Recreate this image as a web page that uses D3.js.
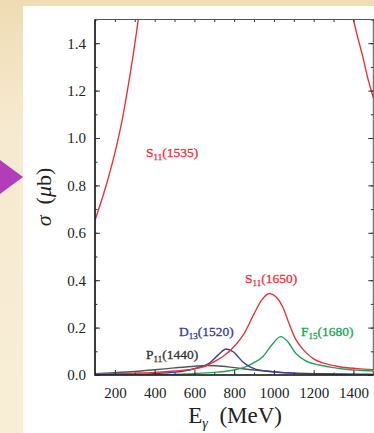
<!DOCTYPE html>
<html>
<head>
<meta charset="utf-8">
<script src="https://cdn.jsdelivr.net/npm/d3@7"></script>
<style>
  body { margin: 0; background: #f4e8c9; }
  svg { display: block; font-family: "Liberation Serif", "DejaVu Serif", serif; }
</style>
</head>
<body>
<div id="chart"></div>
<script>
// curves (E in MeV, sigma in microbarn)
var s1535Left = [[100, 0.653], [140, 0.755], [175, 0.856], [210, 0.972], [240, 1.09], [267, 1.22], [292, 1.35], [317, 1.495], [325, 1.54]];
var s1535Right = [[1390, 1.54], [1400, 1.50], [1420, 1.43], [1445, 1.35], [1470, 1.26], [1500, 1.17]];
var s1650 = [[100, 0.004], [200, 0.006], [300, 0.008], [400, 0.011], [500, 0.017], [600, 0.026], [650, 0.036], [700, 0.056], [750, 0.082], [800, 0.12], [850, 0.175], [900, 0.258], [940, 0.318], [977, 0.344], [1010, 0.33], [1044, 0.288], [1077, 0.215], [1110, 0.15], [1150, 0.105], [1200, 0.068], [1250, 0.05], [1330, 0.035], [1420, 0.027], [1500, 0.022]];
var d1520 = [[100, 0.001], [300, 0.003], [400, 0.006], [500, 0.012], [580, 0.022], [626, 0.033], [676, 0.05], [720, 0.085], [760, 0.11], [795, 0.098], [843, 0.056], [880, 0.034], [910, 0.024], [994, 0.014], [1100, 0.008], [1200, 0.005], [1350, 0.003], [1500, 0.002]];
var f1680 = [[100, 0.0], [400, 0.002], [600, 0.006], [700, 0.011], [777, 0.018], [860, 0.035], [900, 0.052], [944, 0.077], [990, 0.128], [1035, 0.162], [1070, 0.14], [1111, 0.091], [1160, 0.06], [1228, 0.042], [1300, 0.031], [1362, 0.024], [1430, 0.02], [1500, 0.017]];
var p1440 = [[100, 0.006], [200, 0.01], [300, 0.015], [400, 0.022], [500, 0.03], [600, 0.037], [670, 0.04], [740, 0.037], [800, 0.031], [900, 0.021], [1000, 0.013], [1100, 0.008], [1200, 0.006], [1300, 0.004], [1400, 0.003], [1500, 0.002]];

var xTicks = [200, 400, 600, 800, 1000, 1200, 1400];
var yTicks = [0.0, 0.2, 0.4, 0.6, 0.8, 1.0, 1.2, 1.4];

var curves = [
  {data: s1535Left, color: "#e8343c"},
  {data: s1535Right, color: "#e8343c"},
  {data: p1440, color: "#555555"},
  {data: f1680, color: "#20a454"},
  {data: d1520, color: "#3b3b98"},
  {data: s1650, color: "#e8343c"}
];
var labels = [
  {main: "S", sub: "11", rest: "(1535)", x: 146, y: 157, color: "#e8343c"},
  {main: "S", sub: "11", rest: "(1650)", x: 245, y: 283, color: "#e8343c"},
  {main: "D", sub: "13", rest: "(1520)", x: 179, y: 336, color: "#3b3b98"},
  {main: "F", sub: "15", rest: "(1680)", x: 301, y: 336, color: "#20a454"},
  {main: "P", sub: "11", rest: "(1440)", x: 146, y: 359, color: "#333333"}
];

var W = 374, H = 433;
var margin = {top: 19.5, right: 0.7, bottom: 58, left: 95},
    width = W - margin.left - margin.right,
    height = H - margin.top - margin.bottom;

var svg = d3.select("#chart").append("svg")
    .attr("width", W)
    .attr("height", H);

// beige backdrop, white panel, purple pointer
var defs = svg.append("defs");
var grad = defs.append("linearGradient").attr("id", "bg").attr("x1", 0).attr("y1", 0).attr("x2", 0).attr("y2", 1);
grad.append("stop").attr("offset", "0").attr("stop-color", "#efdcb4");
grad.append("stop").attr("offset", "0.3").attr("stop-color", "#f6ead0");
grad.append("stop").attr("offset", "1").attr("stop-color", "#f8eed6");
svg.append("rect").attr("width", W).attr("height", H).attr("fill", "url(#bg)");
svg.append("rect").attr("x", 23).attr("y", 6).attr("width", W - 23).attr("height", H - 6).attr("fill", "#ffffff");
svg.append("path").attr("d", "M0,160L23,177L0,194Z").attr("fill", "#b23db8");

defs.append("clipPath").attr("id", "clip")
  .append("rect").attr("width", width).attr("height", height);

var g = svg.append("g")
    .attr("transform", "translate(" + margin.left + "," + margin.top + ")");

var x = d3.scaleLinear().domain([100, 1500]).range([0, width]);
var y = d3.scaleLinear().domain([0, 1.5]).range([height, 0]);

var line = d3.line()
    .x(function (d) { return x(d[0]); })
    .y(function (d) { return y(d[1]); })
    .curve(d3.curveMonotoneX);

g.append("g").attr("clip-path", "url(#clip)")
  .selectAll("path")
  .data(curves)
  .enter().append("path")
    .attr("d", function (d) { return line(d.data); })
    .attr("fill", "none")
    .attr("stroke", function (d) { return d.color; })
    .attr("stroke-width", 1.4);

// axes with inward ticks on all four sides
var xMinor = d3.range(100, 1501, 100);
var yMinor = d3.range(0, 1.51, 0.1);

function addAxis(axis, tr) {
  var a = g.append("g").attr("transform", tr).call(axis);
  a.select(".domain").remove();
  a.selectAll("line").attr("stroke", "#333");
  return a;
}

var bottom = addAxis(d3.axisBottom(x).tickValues(xTicks).tickSize(-5).tickPadding(12)
    .tickFormat(d3.format("d")), "translate(0," + height + ")");
bottom.selectAll("text").attr("font-size", 15).attr("fill", "#222")
    .attr("font-family", "Liberation Serif");
addAxis(d3.axisBottom(x).tickValues(xMinor).tickSize(-2.5).tickFormat(""), "translate(0," + height + ")");
addAxis(d3.axisTop(x).tickValues(xMinor).tickSize(-2.5).tickFormat(""), "translate(0,0)");

var left = addAxis(d3.axisLeft(y).tickValues(yTicks).tickSize(-5).tickPadding(9)
    .tickFormat(d3.format(".1f")), "translate(0,0)");
left.selectAll("text").attr("font-size", 15).attr("fill", "#222")
    .attr("font-family", "Liberation Serif");
addAxis(d3.axisLeft(y).tickValues(yMinor).tickSize(-2.5).tickFormat(""), "translate(0,0)");
addAxis(d3.axisRight(y).tickValues(yTicks).tickSize(-5).tickFormat(""), "translate(" + width + ",0)");
addAxis(d3.axisRight(y).tickValues(yMinor).tickSize(-2.5).tickFormat(""), "translate(" + width + ",0)");

// frame
g.append("rect").attr("width", width).attr("height", height)
    .attr("fill", "none").attr("stroke", "#555").attr("stroke-width", 1);
g.append("path").attr("d", "M0,0V" + height + "H" + width)
    .attr("fill", "none").attr("stroke", "#222").attr("stroke-width", 1.6);

// curve labels
labels.forEach(function (d) {
  var t = svg.append("text")
      .attr("x", d.x).attr("y", d.y)
      .attr("fill", d.color)
      .attr("stroke", d.color).attr("stroke-width", 0.3)
      .attr("font-size", 13.5);
  t.append("tspan").text(d.main);
  t.append("tspan").text(d.sub).attr("font-size", 9).attr("dy", 3);
  t.append("tspan").text(d.rest).attr("dy", -3);
});

// axis titles
var xl = svg.append("text")
    .attr("x", margin.left + width / 2 + 1).attr("y", 423)
    .attr("text-anchor", "middle")
    .attr("font-size", 23).attr("fill", "#222");
xl.append("tspan").text("E");
xl.append("tspan").text("γ").attr("font-size", 14).attr("dy", 5).attr("font-style", "italic");
xl.append("tspan").text("\u00a0 (MeV)").attr("dy", -5);

var yl = svg.append("text")
    .attr("transform", "translate(51,197) rotate(-90)")
    .attr("text-anchor", "middle")
    .attr("font-size", 22).attr("fill", "#222");
yl.append("tspan").text("σ").attr("font-style", "italic");
yl.append("tspan").text("\u00a0\u00a0(");
yl.append("tspan").text("μ").attr("font-style", "italic");
yl.append("tspan").text("b)");
</script>
</body>
</html>
